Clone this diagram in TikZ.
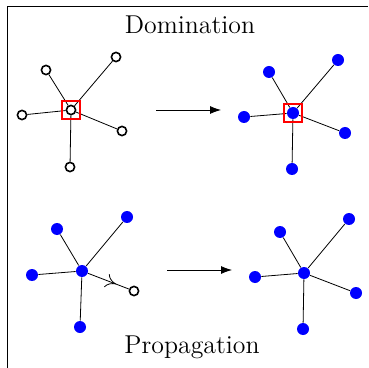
\documentclass[tikz,border=0pt]{standalone}
\usepackage{tikz}
\usetikzlibrary{arrows.meta,decorations.markings}
\tikzset{
  vtx/.style={circle,draw,thick,fill=white,inner sep=0pt,minimum size=4.6pt},
  dom/.style={circle,fill=blue,inner sep=0pt,minimum size=6pt},
  sel/.style={draw=red,line width=1pt,inner sep=0pt,minimum size=9pt},
  title/.style={font=\fontsize{12.9}{15}\selectfont},
  step arrow/.style={-{Latex[length=5.5pt,width=4pt]}},
  midarrow/.style={postaction={decorate},decoration={markings,mark=at position 0.68 with {\arrow{To[length=5pt,width=7pt]}}}}
}
\begin{document}
\begin{tikzpicture}[x=0.5pt,y=-0.5pt]
\useasboundingbox (0,0) rectangle (368,368);
\draw (7,368) -- (7,6) -- (368,6);

\node [title] (domtitle) at (190,25) {Domination};
\node [title] (proptitle) at (192,347) {Propagation};

% domination, before
\node [vtx] (a0) at (71,110) {};
\node [vtx] (a1) at (46,70) {};
\node [vtx] (a2) at (116,57) {};
\node [vtx] (a3) at (22,115) {};
\node [vtx] (a4) at (122,131) {};
\node [vtx] (a5) at (70,167) {};
\draw (a0) -- (a1) (a0) -- (a2) (a0) -- (a3) (a0) -- (a4) (a0) -- (a5);
\node [sel] (asel) at (71,110) {};

% domination, after
\node [dom] (b0) at (293,113) {};
\node [dom] (b1) at (269,72) {};
\node [dom] (b2) at (338,60) {};
\node [dom] (b3) at (244,117) {};
\node [dom] (b4) at (345,133) {};
\node [dom] (b5) at (292,169) {};
\draw (b0) -- (b1) (b0) -- (b2) (b0) -- (b3) (b0) -- (b4) (b0) -- (b5);
\node [sel] (bsel) at (293,113) {};

\coordinate (ta) at (156,110);
\coordinate (tb) at (221,110);
\draw [step arrow] (ta) -- (tb);

% propagation, before
\node [dom] (c0) at (82,271) {};
\node [dom] (c1) at (57,229) {};
\node [dom] (c2) at (127,217) {};
\node [dom] (c3) at (32,275) {};
\node [vtx] (c4) at (134,291) {};
\node [dom] (c5) at (80,327) {};
\draw (c0) -- (c1) (c0) -- (c2) (c0) -- (c3) (c0) -- (c5);
\draw [midarrow] (c0) -- (c4);

% propagation, after
\node [dom] (d0) at (304,273) {};
\node [dom] (d1) at (280,232) {};
\node [dom] (d2) at (349,219) {};
\node [dom] (d3) at (255,277) {};
\node [dom] (d4) at (356,293) {};
\node [dom] (d5) at (303,329) {};
\draw (d0) -- (d1) (d0) -- (d2) (d0) -- (d3) (d0) -- (d4) (d0) -- (d5);

\coordinate (ba) at (167,270);
\coordinate (bb) at (232,270);
\draw [step arrow] (ba) -- (bb);
\end{tikzpicture}
\end{document}
